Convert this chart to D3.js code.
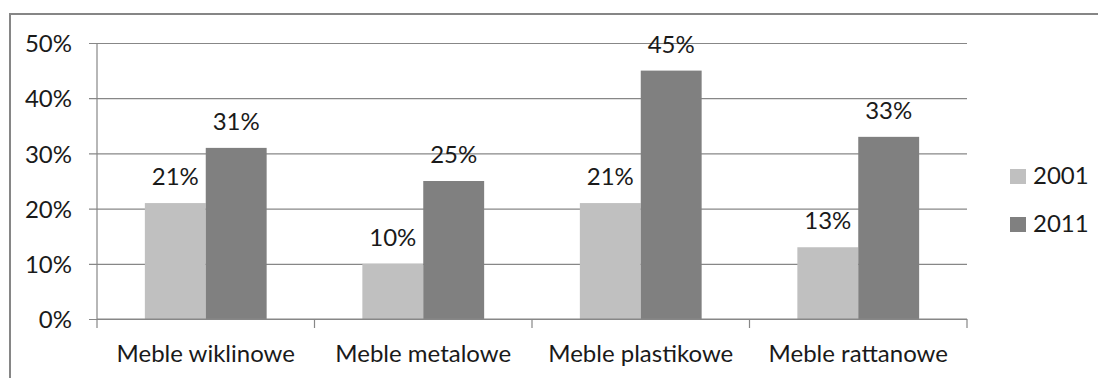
<!DOCTYPE html>
<html>
<head>
<meta charset="utf-8">
<script src="https://cdn.jsdelivr.net/npm/d3@7"></script>
<style>
  html, body { margin: 0; padding: 0; background: #fff; }
  svg { display: block; }
  text { font-family: Lato, "Open Sans", sans-serif; fill: #1a1a1a; }
</style>
</head>
<body>
<svg id="chart" width="1098" height="378"></svg>
<script>
// Furniture types and share of purchases in two survey years
const categories = ["Meble wiklinowe", "Meble metalowe", "Meble plastikowe", "Meble rattanowe"];
const years = ["2001", "2011"];
const values2001 = [21, 10, 21, 13];
const values2011 = [31, 25, 45, 33];
const yTicks = [0, 10, 20, 30, 40, 50];
const colors = ["#c0c0c0", "#808080"];

const series = [values2001, values2011];
const FS = "24px";

const svg = d3.select("#chart");
const margin = { left: 97, right: 131, top: 43, bottom: 59 };
const W = 1098, H = 378;

// outer frame: only top and left edges fall inside the view
svg.append("path")
  .attr("d", `M10,${H} L10,14 L${W},14`)
  .attr("fill", "none")
  .attr("stroke", "#868686")
  .attr("stroke-width", 2);

const x = d3.scaleBand()
  .domain(categories)
  .range([margin.left, W - margin.right]);

const y = d3.scaleLinear()
  .domain([0, 50])
  .range([H - margin.bottom, margin.top]);

const barW = x.bandwidth() * 0.28;
const x1 = d3.scaleBand()
  .domain(years)
  .range([0, barW * 2]);

const plotW = W - margin.right - margin.left;

// gridlines with left tick stubs
const yAxis = d3.axisLeft(y)
  .tickValues(yTicks)
  .tickFormat(d => d + "%");

const gy = svg.append("g")
  .attr("transform", `translate(${margin.left},0)`)
  .call(yAxis);
gy.select(".domain").remove();
gy.selectAll(".tick line")
  .attr("stroke", "#878787")
  .attr("stroke-width", 1.2)
  .attr("x1", -8)
  .attr("x2", plotW);
gy.selectAll(".tick text")
  .attr("x", -25)
  .attr("dy", "0.36em")
  .attr("text-anchor", "end")
  .style("font-size", FS)
  .style("fill", "#1a1a1a");

// bars with value labels
categories.forEach((c, i) => {
  const g0 = x(c) + (x.bandwidth() - barW * 2) / 2;
  years.forEach((yr, k) => {
    const v = series[k][i];
    svg.append("rect")
      .attr("x", g0 + x1(yr))
      .attr("y", y(v))
      .attr("width", x1.bandwidth())
      .attr("height", y(0) - y(v))
      .attr("fill", colors[k]);
    svg.append("text")
      .attr("x", g0 + x1(yr) + x1.bandwidth() / 2)
      .attr("y", y(v) - 18)
      .attr("text-anchor", "middle")
      .style("font-size", FS)
      .text(v + "%");
  });
});

// category axis
const xAxis = d3.axisBottom(x).tickSize(0).tickPadding(0);
const gx = svg.append("g")
  .attr("transform", `translate(0,${y(0)})`)
  .call(xAxis);
gx.select(".domain")
  .attr("stroke", "#878787")
  .attr("stroke-width", 1.2)
  .attr("d", `M${margin.left},0H${W - margin.right}`);
gx.selectAll(".tick text")
  .attr("y", 43)
  .attr("dy", 0)
  .style("font-size", FS)
  .style("fill", "#1a1a1a");

// category boundary ticks
const bounds = categories.map(c => x(c)).concat([x(categories[categories.length - 1]) + x.bandwidth()]);
svg.append("g").selectAll("line")
  .data(bounds)
  .join("line")
  .attr("x1", d => d).attr("x2", d => d)
  .attr("y1", y(0)).attr("y2", y(0) + 9)
  .attr("stroke", "#878787")
  .attr("stroke-width", 1.2);

// value axis line
svg.append("line")
  .attr("x1", margin.left).attr("x2", margin.left)
  .attr("y1", y(50)).attr("y2", y(0))
  .attr("stroke", "#878787")
  .attr("stroke-width", 1.2);

// legend
const lg = svg.append("g").attr("transform", "translate(1010,169)");
years.forEach((yr, k) => {
  const row = lg.append("g").attr("transform", `translate(0,${k * 48})`);
  row.append("rect")
    .attr("width", 16).attr("height", 15)
    .attr("fill", colors[k]);
  row.append("text")
    .attr("x", 23).attr("y", 15)
    .style("font-size", FS)
    .text(yr);
});
</script>
</body>
</html>
